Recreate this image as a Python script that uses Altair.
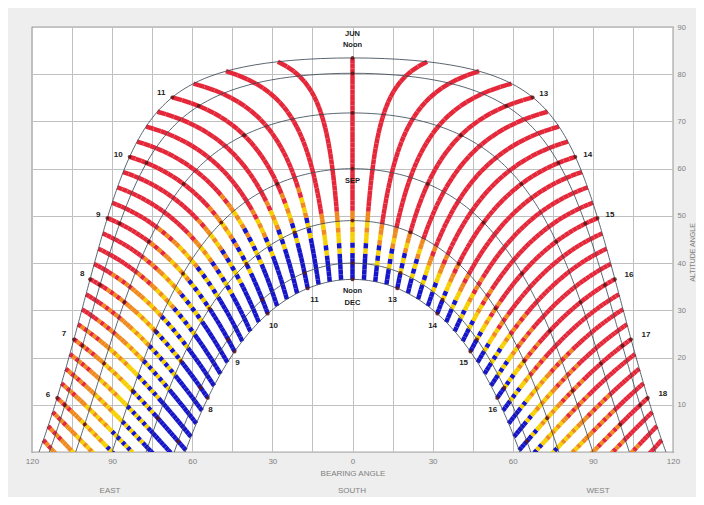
import numpy as np
import pandas as pd
import altair as alt

# ---------------- data ----------------
LATITUDE = 30.0
MONTH_NAMES = ["JUN", "MAY/JUL", "APR/AUG", "MAR/SEP", "FEB/OCT", "JAN/NOV", "DEC"]
MONTH_DECL = [23.45, 20.2, 11.8, 0.0, -11.0, -20.0, -23.45]

# quarter-hour lines from 5:00 to 19:00 (solar time)
HOUR_LINES = [5.0 + 0.25 * i for i in range(57)]
DOT_HOURS = [6, 7, 8, 9, 10, 11, 12, 13, 14, 15, 16, 17, 18]

# colour thresholds (declination, deg) read per whole hour
TH_HOURS = [5, 6, 7, 8, 9, 10, 11, 12, 13, 14, 15, 16, 17, 18, 19]
SPR_BLUE = [3, 2, 1, 0, -1, -4, -9, -14, -16, -17, -17, -16, -14, -10, -8]
SPR_YELLOW = [14, 13, 11, 8, 5, 1, -5, -11, -13, -14, -13, -11, -7, -1, 3]
SPR_ORANGE = [24, 24, 22, 18, 12, 6, -1, -8, -10, -10, -9, -5, 4, 12, 16]
AUT_BLUE = [-6, -8, -10, -11, -12, -13, -15, -18, -20, -21, -21, -20, -19, -17, -15]
AUT_YELLOW = [6, 5, 3, 0, -3, -7, -10, -14, -16, -17, -17, -15, -13, -9, -6]
AUT_ORANGE = [20, 18, 15, 11, 6, 1, -6, -10, -12, -13, -13, -11, -4, 2, 6]

# label positions (bearing, altitude)
OUT_LABELS = ["11", "10", "9", "8", "7", "6", "13", "14", "15", "16", "17", "18"]
OUT_X = [-71.6, -87.7, -95.2, -101.2, -108.0, -114.0, 71.6, 88.1, 96.4, 103.5, 109.9, 116.2]
OUT_Y = [76.0, 62.9, 50.2, 37.7, 25.0, 12.1, 75.8, 62.9, 50.2, 37.5, 24.8, 12.3]
IN_LABELS = ["8", "9", "10", "11", "13", "14", "15", "16"]
IN_X = [-53.2, -43.1, -29.6, -14.2, 15.0, 30.0, 41.6, 52.5]
IN_Y = [8.9, 18.8, 26.7, 32.2, 32.2, 26.7, 18.8, 8.9]
MID_LABELS = ["JUN", "Noon", "SEP", "Noon", "DEC"]
MID_X = [0, 0, 0, 0, 0]
MID_Y = [88.6, 86.1, 57.4, 34.1, 31.6]

N_SEG = 42
CLASS_DOMAIN = ["blue", "yellow", "orange", "red"]
CLASS_RANGE = ["#1616c8", "#f6d000", "#f08a1e", "#e4283a"]


def sunpos(dec, hour):
    lat = np.radians(LATITUDE)
    d = np.radians(dec)
    H = np.radians((hour - 12.0) * 15.0)
    s_alt = np.sin(lat) * np.sin(d) + np.cos(lat) * np.cos(d) * np.cos(H)
    altr = np.arcsin(np.clip(s_alt, -1, 1))
    c_az = (s_alt * np.sin(lat) - np.sin(d)) / (np.cos(altr) * np.cos(lat))
    az = np.degrees(np.arccos(np.clip(c_az, -1, 1)))
    return float(np.sign(H) * az), float(np.degrees(altr))


def classify(dec, b, y, o):
    if dec < b:
        return "blue"
    if dec < y:
        return "yellow"
    if dec < o:
        return "orange"
    return "red"


# ---------------- build tables ----------------
seg_rows = []
edges = np.linspace(-23.45, 23.45, N_SEG + 1)
for h in HOUR_LINES:
    k = int(np.floor(h + 0.5))
    k = min(max(k, TH_HOURS[0]), TH_HOURS[-1])
    j = TH_HOURS.index(k)
    for i in range(N_SEG):
        d0, d1 = edges[i], edges[i + 1]
        x0, y0 = sunpos(d0, h)
        x1, y1 = sunpos(d1, h)
        if y0 < 0 and y1 < 0:
            continue
        dm = 0.5 * (d0 + d1)
        if i % 2 == 0:
            c = classify(dm, SPR_BLUE[j], SPR_YELLOW[j], SPR_ORANGE[j])
        else:
            c = classify(dm, AUT_BLUE[j], AUT_YELLOW[j], AUT_ORANGE[j])
        seg_rows.append(dict(x=x0, y=y0, x2=x1, y2=y1, cls=c, hour=h))
seg_df = pd.DataFrame(seg_rows)

arc_rows = []
for name, dec in zip(MONTH_NAMES, MONTH_DECL):
    for t in np.arange(4.6, 19.41, 0.05):
        bx, ay = sunpos(dec, t)
        if ay < -1.5:
            continue
        arc_rows.append(dict(month=name, t=t, x=bx, y=ay))
arc_df = pd.DataFrame(arc_rows)

dot_rows = []
for dec in MONTH_DECL:
    for h in DOT_HOURS:
        bx, ay = sunpos(dec, h)
        if ay > 1:
            dot_rows.append(dict(x=bx, y=ay))
dot_df = pd.DataFrame(dot_rows)

lab_df = pd.DataFrame(dict(x=OUT_X + IN_X, y=OUT_Y + IN_Y, t=OUT_LABELS + IN_LABELS))
mid_df = pd.DataFrame(dict(x=MID_X, y=MID_Y, t=MID_LABELS))

# ---------------- chart ----------------
FONT = "Liberation Sans"
XS = alt.Scale(domain=[-120, 120], nice=False, zero=False)
YS = alt.Scale(domain=[0, 90], nice=False, zero=False)
XAX = alt.Axis(values=list(range(-120, 121, 15)),
               labelExpr="datum.value % 30 == 0 ? '' + abs(datum.value) : ''",
               grid=True, gridColor="#c0c0c0", gridWidth=1, ticks=False, domain=False,
               labelFontSize=8, labelColor="#808080", labelFont=FONT, labelPadding=5,
               labelFlush=False, title="BEARING ANGLE", titleFont=FONT, titleFontSize=8,
               titleFontWeight="normal", titleColor="#808080", titlePadding=4)
YAX = alt.Axis(orient="right", values=list(range(0, 91, 10)),
               labelExpr="datum.value == 0 ? '' : datum.label",
               grid=True, gridColor="#c0c0c0", gridWidth=1, ticks=False, domain=False,
               labelFontSize=7.5, labelColor="#808080", labelFont=FONT, labelPadding=4,
               labelFlush=False, title="ALTITUDE ANGLE", titleAngle=270, titleFont=FONT,
               titleFontSize=7, titleFontWeight="normal", titleColor="#808080",
               titleX=19, titleY=225, titleAlign="center", titleBaseline="middle")


def X(f="x"):
    return alt.X(f"{f}:Q", scale=XS, axis=XAX)


def Y(f="y"):
    return alt.Y(f"{f}:Q", scale=YS, axis=YAX)


segs = alt.Chart(seg_df).mark_rule(strokeWidth=4.5, clip=True, strokeCap="butt").encode(
    x=X(), y=Y(), x2="x2:Q", y2="y2:Q",
    color=alt.Color("cls:N", scale=alt.Scale(domain=CLASS_DOMAIN, range=CLASS_RANGE), legend=None),
)

arcs = alt.Chart(arc_df).mark_line(strokeWidth=0.9, color="#34414f", clip=True, opacity=0.9).encode(
    x=X(), y=Y(), detail="month:N", order="t:Q"
)

dots = alt.Chart(dot_df).mark_circle(size=14, color="#5a1414", opacity=0.85).encode(x=X(), y=Y())

labels = alt.Chart(lab_df).mark_text(font=FONT, fontSize=8, fontWeight="bold", color="#1c1c1c").encode(
    x=X(), y=Y(), text="t:N"
)
mids = alt.Chart(mid_df).mark_text(font=FONT, fontSize=7.5, fontWeight="bold", color="#1c1c1c").encode(
    x=X(), y=Y(), text="t:N"
)

foot_df = pd.DataFrame(dict(t=["SOUTH", "EAST", "WEST"], px=[320, 78, 566]))
foot = alt.Chart(foot_df).mark_text(font=FONT, fontSize=8, color="#808080").encode(
    x=alt.X("px:Q", scale=None), y=alt.value(464), text="t:N"
)

chart = alt.layer(segs, arcs, dots, labels, mids, foot).properties(
    width=641, height=425,
    autosize=alt.AutoSizeParams(type="none"),
    padding={"left": 24, "top": 19, "right": 23, "bottom": 45},
    background="#eeeeee",
).configure_view(fill="white", stroke="#555555", strokeWidth=1.2)

chart.save("out.html", embed_options={"renderer": "svg", "actions": False})
